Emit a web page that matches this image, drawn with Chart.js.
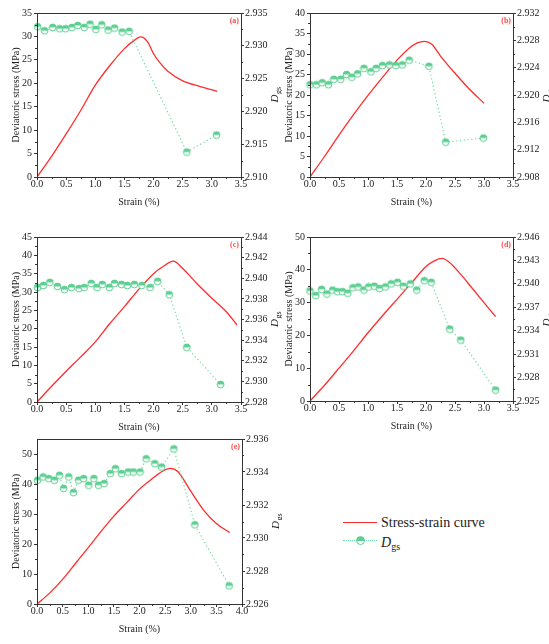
<!DOCTYPE html>
<html>
<head>
<meta charset="utf-8">
<script src="https://cdn.jsdelivr.net/npm/chart.js@4.4.0/dist/chart.umd.min.js"></script>
<style>
  body { margin: 0; background: #fff; width: 549px; height: 644px; position: relative; overflow: hidden; font-family: "Liberation Serif", "Times New Roman", serif; color: #222; }
  canvas { position: absolute; }
  .leg { position: absolute; white-space: nowrap; }
</style>
</head>
<body>
<canvas id="pa"></canvas>
<canvas id="pb"></canvas>
<canvas id="pc"></canvas>
<canvas id="pd"></canvas>
<canvas id="pe"></canvas>

<div class="leg" style="left:343px;top:522px;width:34px;border-top:1.6px solid #ff2d2d"></div>
<div class="leg" style="left:381px;top:515px;font-size:14px;line-height:16px">Stress-strain curve</div>
<div class="leg" style="left:343px;top:540px;width:34px;border-top:1.2px dotted #6fd9a0"></div>
<div class="leg" style="left:356px;top:536px;width:7px;height:7px;border-radius:50%;border:1px solid #5ccf91;background:linear-gradient(to bottom,#5ccf91 50%,#fff 50%)"></div>
<div class="leg" style="left:381px;top:535px;font-size:14px;line-height:16px"><i>D</i><span style="font-size:10px;vertical-align:-3px">gs</span></div>

<script>
// ---- data ----
// (a)
const strainA = [0, 0.25, 0.5, 0.75, 1.0, 1.25, 1.5, 1.65, 1.78, 1.9, 2.0, 2.1, 2.25, 2.5, 2.8, 3.09]
const stressA = [0, 4.4, 9.2, 14.2, 19.6, 23.8, 27.4, 29.0, 29.9, 28.8, 26.3, 24.5, 22.5, 20.5, 19.3, 18.3]
const dgsStrainA = [0.01, 0.13, 0.27, 0.39, 0.49, 0.60, 0.70, 0.81, 0.91, 1.01, 1.11, 1.22, 1.33, 1.46, 1.58, 2.57, 3.08]
const dgsA = [2.9329, 2.9323, 2.9328, 2.9326, 2.9326, 2.9328, 2.9331, 2.9328, 2.9333, 2.9325, 2.9332, 2.9324, 2.9327, 2.9321, 2.9322, 2.9138, 2.9164]
// (b)
const strainB = [0, 0.25, 0.5, 0.75, 1.0, 1.25, 1.5, 1.7, 1.85, 1.97, 2.1, 2.25, 2.5, 2.75, 3.0]
const stressB = [0, 5.0, 10.2, 15.2, 19.9, 24.3, 28.5, 31.3, 32.7, 33.1, 32.4, 29.5, 25.3, 21.4, 18.0]
const dgsStrainB = [0, 0.11, 0.21, 0.32, 0.41, 0.53, 0.63, 0.72, 0.82, 0.93, 1.05, 1.14, 1.25, 1.37, 1.48, 1.59, 1.71, 2.05, 2.34, 2.99]
const dgsB = [2.9215, 2.9215, 2.9218, 2.9215, 2.9223, 2.9223, 2.9230, 2.9226, 2.9231, 2.9239, 2.9234, 2.9239, 2.9243, 2.9244, 2.9243, 2.9244, 2.9251, 2.9242, 2.9131, 2.9137]
// (c)
const strainC = [0, 0.25, 0.5, 0.75, 1.0, 1.25, 1.5, 1.75, 2.0, 2.15, 2.34, 2.5, 2.75, 3.0, 3.25, 3.43]
const stressC = [0, 4.3, 8.4, 12.3, 16.4, 21.4, 26.0, 30.8, 35.0, 36.8, 38.4, 36.4, 32.2, 28.3, 24.6, 21.0]
const dgsStrainC = [0.01, 0.11, 0.22, 0.35, 0.47, 0.59, 0.72, 0.81, 0.93, 1.03, 1.12, 1.24, 1.33, 1.45, 1.55, 1.67, 1.80, 1.94, 2.07, 2.27, 2.57, 3.15]
const dgsC = [2.9391, 2.9393, 2.9396, 2.9392, 2.9389, 2.9391, 2.9390, 2.9391, 2.9395, 2.9391, 2.9394, 2.9391, 2.9395, 2.9394, 2.9393, 2.9394, 2.9393, 2.9391, 2.9397, 2.9384, 2.9333, 2.9297]
// (d)
const strainD = [0, 0.25, 0.5, 0.75, 1.0, 1.25, 1.5, 1.75, 2.0, 2.15, 2.28, 2.4, 2.6, 2.8, 3.0, 3.2]
const stressD = [0, 4.8, 10.0, 15.3, 20.8, 26.0, 31.0, 36.0, 41.0, 42.8, 43.5, 42.3, 38.6, 34.3, 30.0, 25.7]
const dgsStrainD = [0, 0.10, 0.20, 0.29, 0.39, 0.47, 0.56, 0.65, 0.74, 0.83, 0.93, 1.01, 1.11, 1.20, 1.30, 1.40, 1.51, 1.61, 1.73, 1.84, 1.97, 2.09, 2.41, 2.60, 3.20]
const dgsD = [2.9391, 2.9385, 2.9393, 2.9387, 2.9392, 2.9390, 2.9390, 2.9388, 2.9395, 2.9396, 2.9392, 2.9396, 2.9397, 2.9394, 2.9396, 2.9400, 2.9402, 2.9397, 2.9400, 2.9392, 2.9404, 2.9402, 2.9342, 2.9328, 2.9264]
// (e)
const strainE = [0, 0.25, 0.5, 0.75, 1.0, 1.25, 1.5, 1.75, 2.0, 2.25, 2.45, 2.6, 2.75, 3.0, 3.25, 3.5, 3.76]
const stressE = [0, 3.7, 8.2, 13.5, 18.8, 24.2, 29.3, 33.8, 38.3, 41.8, 44.3, 45.2, 44.1, 37.6, 31.3, 26.8, 23.8]
const dgsStrainE = [0.01, 0.12, 0.23, 0.34, 0.44, 0.52, 0.62, 0.71, 0.81, 0.91, 1.01, 1.11, 1.20, 1.31, 1.43, 1.53, 1.65, 1.78, 1.88, 2.01, 2.13, 2.30, 2.43, 2.67, 3.08, 3.75]
const dgsE = [2.9335, 2.9337, 2.9336, 2.9335, 2.9338, 2.9330, 2.9337, 2.93275, 2.9335, 2.9336, 2.9332, 2.9336, 2.9332, 2.9333, 2.9339, 2.9342, 2.9339, 2.9340, 2.9340, 2.9340, 2.9348, 2.9345, 2.9343, 2.9354, 2.9308, 2.9271]

// tick labels
const xTicks35 = [0, 0.5, 1.0, 1.5, 2.0, 2.5, 3.0, 3.5]
const xTicks40 = [0, 0.5, 1.0, 1.5, 2.0, 2.5, 3.0, 3.5, 4.0]
const stressTicksA = [0, 5, 10, 15, 20, 25, 30, 35]
const stressTicksB = [0, 5, 10, 15, 20, 25, 30, 35, 40]
const stressTicksC = [0, 5, 10, 15, 20, 25, 30, 35, 40, 45]
const stressTicksD = [0, 10, 20, 30, 40, 50]
const stressTicksE = [0, 10, 20, 30, 40, 50]
const dgsTicksA = [2.910, 2.915, 2.920, 2.925, 2.930, 2.935]
const dgsTicksB = [2.908, 2.912, 2.916, 2.920, 2.924, 2.928, 2.932]
const dgsTicksC = [2.928, 2.930, 2.932, 2.934, 2.936, 2.938, 2.940, 2.942, 2.944]
const dgsTicksD = [2.925, 2.928, 2.931, 2.934, 2.937, 2.940, 2.943, 2.946]
const dgsTicksE = [2.926, 2.928, 2.930, 2.932, 2.934, 2.936]

const RED = '#ff2d2d'
const GREEN = '#5ccf91'
const GREEN_LINE = '#6fd9a0'
const INK = '#222'
const FONT = { family: "'Liberation Serif', 'Times New Roman', serif", size: 10, lineHeight: 1 }

// half filled circle, like the Origin symbol
function halfMarker() {
  const c = document.createElement('canvas')
  c.width = 9
  c.height = 9
  const g = c.getContext('2d')
  g.beginPath(); g.arc(4.5, 4.5, 3.4, 0, 2 * Math.PI); g.fillStyle = '#fff'; g.fill()
  g.beginPath(); g.arc(4.5, 4.5, 3.4, Math.PI, 2 * Math.PI); g.closePath(); g.fillStyle = GREEN; g.fill()
  g.beginPath(); g.arc(4.5, 4.5, 3.4, 0, 2 * Math.PI); g.strokeStyle = GREEN; g.lineWidth = 1; g.stroke()
  return c
}
const marker = halfMarker()

// frame, minor ticks, panel tag and the D_gs title
const decorations = {
  id: 'decorations',
  afterDraw(chart, args, opts) {
    const ctx = chart.ctx
    const { left, right, top, bottom } = chart.chartArea
    ctx.save()
    ctx.strokeStyle = '#333'
    ctx.lineWidth = 1
    ctx.strokeRect(Math.round(left) + 0.5, Math.round(top) + 0.5, Math.round(right - left), Math.round(bottom - top))
    // minor ticks half way between majors
    ctx.beginPath()
    for (const id of ['x', 'y', 'y1']) {
      const s = chart.scales[id]
      for (let i = 0; i < s.ticks.length - 1; i++) {
        const p = Math.round(s.getPixelForValue((s.ticks[i].value + s.ticks[i + 1].value) / 2)) + 0.5
        if (id === 'x') { ctx.moveTo(p, bottom); ctx.lineTo(p, bottom + 2) }
        else if (id === 'y') { ctx.moveTo(left, p); ctx.lineTo(left - 2, p) }
        else { ctx.moveTo(right, p); ctx.lineTo(right + 2, p) }
      }
    }
    ctx.stroke()
    // tag
    ctx.fillStyle = '#ff4a4a'
    ctx.font = "bold 8px 'Liberation Serif', serif"
    ctx.textAlign = 'right'
    ctx.textBaseline = 'middle'
    ctx.fillText(opts.tag, right - 2, top + 8)
    // right axis title D_gs
    ctx.translate(right + 33, (top + bottom) / 2)
    ctx.rotate(-Math.PI / 2)
    ctx.fillStyle = INK
    ctx.textAlign = 'left'
    ctx.textBaseline = 'alphabetic'
    ctx.font = "italic 11px 'Liberation Serif', serif"
    const wD = ctx.measureText('D').width
    ctx.font = "8px 'Liberation Serif', serif"
    const wS = ctx.measureText('gs').width
    const x0 = -(wD + wS) / 2
    ctx.font = "italic 11px 'Liberation Serif', serif"
    ctx.fillText('D', x0, 4)
    ctx.font = "8px 'Liberation Serif', serif"
    ctx.fillText('gs', x0 + wD + 0.5, 6.5)
    ctx.restore()
  }
}

const panels = [
  { id: 'pa', tag: '(a)', box: [0, 0, 282, 212], area: [37, 13, 241, 177], strain: strainA, stress: stressA, dStrain: dgsStrainA, dgs: dgsA, xTicks: xTicks35, yTicks: stressTicksA, rTicks: dgsTicksA },
  { id: 'pb', tag: '(b)', box: [272, 0, 277, 212], area: [310, 13, 513, 177], strain: strainB, stress: stressB, dStrain: dgsStrainB, dgs: dgsB, xTicks: xTicks35, yTicks: stressTicksB, rTicks: dgsTicksB },
  { id: 'pc', tag: '(c)', box: [0, 222, 282, 214], area: [37, 237, 241, 402], strain: strainC, stress: stressC, dStrain: dgsStrainC, dgs: dgsC, xTicks: xTicks35, yTicks: stressTicksC, rTicks: dgsTicksC },
  { id: 'pd', tag: '(d)', box: [272, 222, 277, 214], area: [310, 237, 513, 401], strain: strainD, stress: stressD, dStrain: dgsStrainD, dgs: dgsD, xTicks: xTicks35, yTicks: stressTicksD, rTicks: dgsTicksD },
  { id: 'pe', tag: '(e)', box: [0, 430, 282, 214], area: [37, 439, 242, 604], strain: strainE, stress: stressE, dStrain: dgsStrainE, dgs: dgsE, xTicks: xTicks40, yTicks: stressTicksE, rTicks: dgsTicksE },
]

function last(a) { return a[a.length - 1] }

function makeChart(p) {
  const cv = document.getElementById(p.id)
  const [bx, by, bw, bh] = p.box
  const [l, t, r, b] = p.area
  cv.width = bw
  cv.height = bh
  cv.style.left = bx + 'px'
  cv.style.top = by + 'px'
  const leftW = l - bx
  const rightW = bx + bw - r
  const bottomH = by + bh - b
  const titleFont = { family: FONT.family, size: 10, lineHeight: 1.2 }
  const axisGrid = { drawOnChartArea: false, tickLength: 3, color: '#333', tickColor: '#333' }
  const axisBorder = { color: '#333', width: 1 }

  return new Chart(cv, {
    type: 'line',
    data: {
      datasets: [
        {
          label: 'Dgs',
          data: p.dStrain.map((x, i) => ({ x: x, y: p.dgs[i] })),
          yAxisID: 'y1',
          borderColor: GREEN_LINE,
          borderWidth: 1.2,
          borderDash: [1.2, 2.6],
          pointStyle: marker,
          pointRadius: 4,
          clip: false,
          order: 1,
        },
        {
          label: 'Stress-strain curve',
          data: p.strain.map((x, i) => ({ x: x, y: p.stress[i] })),
          yAxisID: 'y',
          borderColor: RED,
          borderWidth: 1.3,
          pointRadius: 0,
          cubicInterpolationMode: 'monotone',
          order: 2,
        },
      ],
    },
    options: {
      responsive: false,
      animation: false,
      layout: { padding: { top: t - by, left: 0, right: 0, bottom: 0 } },
      plugins: { legend: { display: false }, tooltip: { enabled: false }, decorations: { tag: p.tag } },
      scales: {
        x: {
          type: 'linear',
          min: 0,
          max: last(p.xTicks),
          afterBuildTicks: (s) => { s.ticks = p.xTicks.map((v) => ({ value: v })) },
          afterFit: (s) => { s.height = bottomH },
          ticks: { font: FONT, color: INK, padding: -1, maxRotation: 0, autoSkip: false, callback: (v) => v.toFixed(1) },
          grid: axisGrid,
          border: axisBorder,
          title: { display: true, text: 'Strain (%)', font: titleFont, color: INK, padding: { top: 0, bottom: bottomH - 25 - 6 } },
        },
        y: {
          position: 'left',
          min: p.yTicks[0],
          max: p.id === 'pe' ? 55 : last(p.yTicks),
          afterBuildTicks: (s) => { s.ticks = p.yTicks.map((v) => ({ value: v })) },
          afterFit: (s) => { s.width = leftW },
          ticks: { font: FONT, color: INK, padding: 2, autoSkip: false, callback: (v) => String(v) },
          grid: axisGrid,
          border: axisBorder,
          title: { display: true, text: 'Deviatoric stress (MPa)', font: titleFont, color: INK, padding: { top: leftW - 21 - 6, bottom: 0 } },
        },
        y1: {
          position: 'right',
          min: p.rTicks[0],
          max: last(p.rTicks),
          afterBuildTicks: (s) => { s.ticks = p.rTicks.map((v) => ({ value: v })) },
          afterFit: (s) => { s.width = rightW },
          ticks: { font: FONT, color: INK, padding: 1, autoSkip: false, callback: (v) => v.toFixed(3) },
          grid: axisGrid,
          border: axisBorder,
        },
      },
    },
    plugins: [decorations],
  })
}

panels.forEach(makeChart)
</script>
</body>
</html>
